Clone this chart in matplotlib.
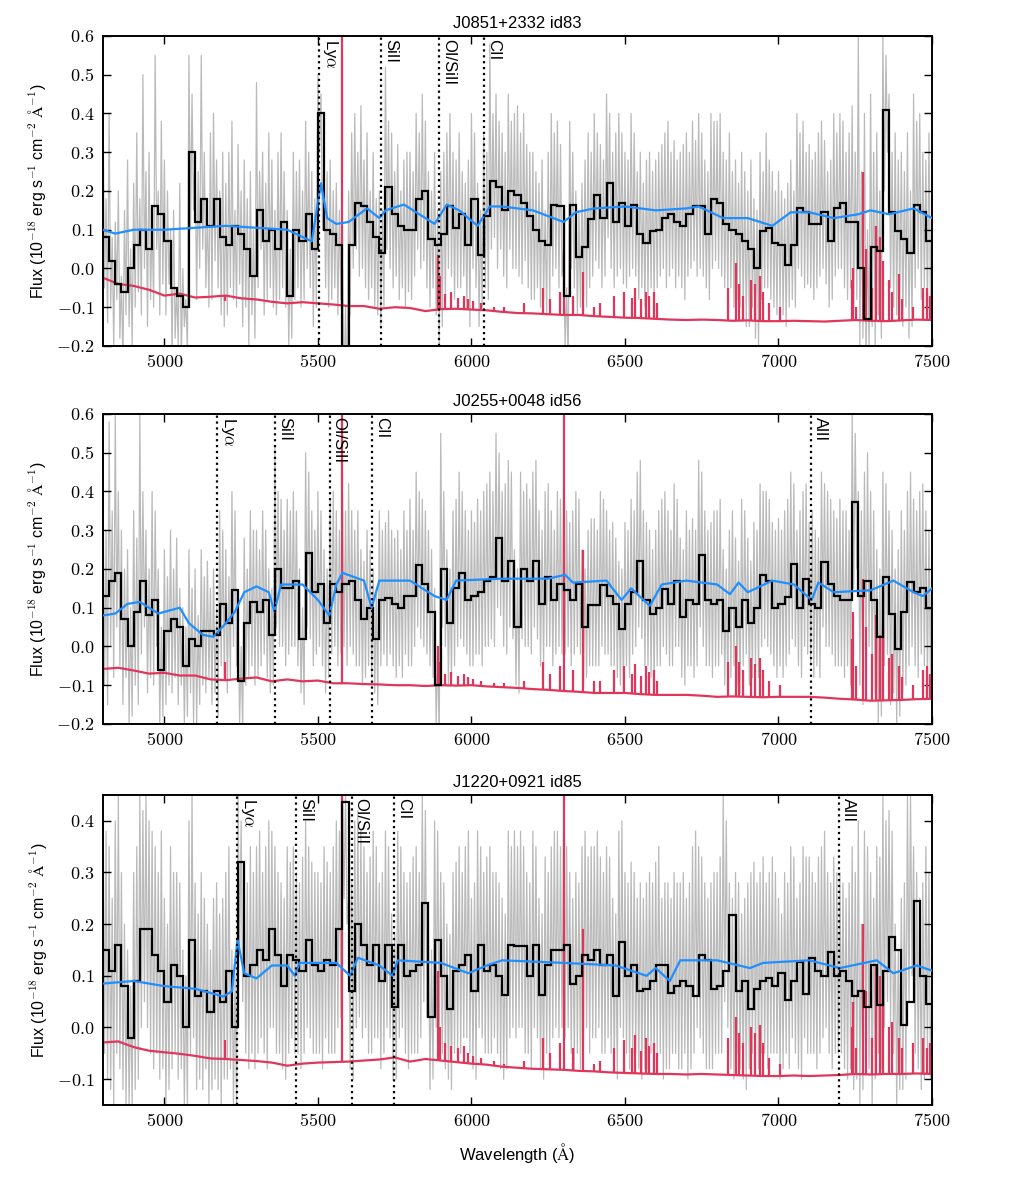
import numpy as np
import matplotlib
matplotlib.use('Agg')
import matplotlib.pyplot as plt
from matplotlib.ticker import FuncFormatter, MultipleLocator

plt.rcParams['font.family'] = ['Liberation Sans', 'DejaVu Sans']
plt.rcParams['mathtext.fontset'] = 'cm'

# ── data ─────────────────────────────────────────────────────────────────────
BIN = 20.0      # binned spectrum (black)
GSTEP = 5.0     # raw spectrum (grey)
SSTEP = 50.0    # sky continuum (red)
X0 = 4800.0

titles = ["J0851+2332 id83", "J0255+0048 id56", "J1220+0921 id85"]
redshift = [3.527, 3.253, 3.308]
ylims = [(-0.2, 0.6), (-0.2, 0.6), (-0.15, 0.45)]

line_names = [r"Ly$\alpha$", "SiII", "OI/SiII", "CII", "AlII"]
line_rest = [1215.67, 1260.42, 1302.17, 1334.53, 1670.79]

black1 = [0.08, 0.02, -0.04, -0.06, 0.0, 0.06, 0.10, 0.05, 0.16, 0.14,
          0.07, -0.05, -0.07, -0.10, 0.30, 0.12, 0.18, 0.11, 0.18, 0.08,
          0.06, 0.11, 0.09, 0.05, -0.02, 0.15, 0.07, 0.10, 0.05, 0.12,
          -0.07, 0.10, 0.07, 0.14, 0.05, 0.40, 0.10, 0.09, 0.06, -0.30,
          0.06, 0.17, 0.16, 0.12, 0.08, 0.04, 0.21, 0.14, 0.11, 0.10,
          0.10, 0.18, 0.20, 0.075, 0.06, 0.09, 0.16, 0.105, 0.14, 0.06,
          0.18, 0.035, 0.135, 0.225, 0.21, 0.15, 0.20, 0.19, 0.17, 0.135,
          0.10, 0.07, 0.06, 0.165, 0.16, -0.07, 0.165, 0.03, 0.055, 0.127,
          0.19, 0.13, 0.22, 0.12, 0.17, 0.11, 0.165, 0.09, 0.066, 0.097,
          0.10, 0.13, 0.14, 0.12, 0.11, 0.14, 0.16, 0.16, 0.09, 0.18,
          0.17, 0.115, 0.10, 0.09, 0.07, 0.05, 0.0, 0.097, 0.105, 0.066,
          0.06, 0.01, 0.06, 0.157, 0.145, 0.115, 0.115, 0.145, 0.07, 0.157,
          0.17, 0.12, 0.12, 0.0, -0.13, 0.055, 0.045, 0.41, 0.145, 0.097,
          0.075, 0.04, 0.165, 0.145, 0.07]
black2 = [0.13, 0.17, 0.19, 0.07, 0.0, 0.09, 0.17, 0.08, 0.12, -0.06,
          0.04, 0.07, 0.05, -0.05, 0.02, 0.0, 0.04, 0.04, 0.03, 0.11,
          0.06, 0.145, -0.09, 0.06, 0.115, 0.09, 0.12, 0.03, 0.20, 0.15,
          0.15, 0.17, 0.02, 0.24, 0.14, 0.16, 0.06, 0.16, 0.14, 0.16,
          0.17, 0.12, 0.07, 0.10, 0.02, 0.12, 0.125, 0.11, 0.10, 0.13,
          0.13, 0.21, 0.16, 0.09, -0.10, 0.20, 0.06, 0.15, 0.19, 0.12,
          0.13, 0.14, 0.17, 0.18, 0.28, 0.17, 0.22, 0.05, 0.20, 0.17,
          0.22, 0.11, 0.18, 0.12, 0.16, 0.145, 0.12, 0.16, 0.05, 0.106,
          0.106, 0.158, 0.13, 0.11, 0.046, 0.11, 0.14, 0.22, 0.12, 0.084,
          0.10, 0.149, 0.11, 0.17, 0.076, 0.12, 0.11, 0.235, 0.12, 0.11,
          0.12, 0.04, 0.10, 0.05, 0.12, 0.06, 0.10, 0.184, 0.17, 0.10,
          0.11, 0.128, 0.214, 0.10, 0.175, 0.11, 0.10, 0.218, 0.16, 0.13,
          0.12, 0.12, 0.373, 0.13, 0.17, 0.12, 0.024, 0.18, 0.084, -0.006,
          0.09, 0.166, 0.14, 0.15, 0.10]
black3 = [0.15, 0.11, 0.16, 0.08, -0.02, 0.09, 0.19, 0.19, 0.14, 0.11,
          0.05, 0.12, 0.10, 0.0, 0.17, 0.06, 0.07, 0.03, 0.07, 0.05,
          0.11, 0.0, 0.32, 0.10, 0.12, 0.15, 0.13, 0.19, 0.14, 0.08,
          0.14, 0.13, 0.11, 0.17, 0.12, 0.11, 0.13, 0.12, 0.19, 0.436,
          0.07, 0.20, 0.16, 0.12, 0.16, 0.09, 0.16, 0.04, 0.16, 0.10,
          0.11, 0.12, 0.24, 0.02, 0.17, 0.10, 0.036, 0.11, 0.12, 0.14,
          0.07, 0.16, 0.11, 0.12, 0.10, 0.062, 0.16, 0.157, 0.157, 0.10,
          0.16, 0.062, 0.12, 0.15, 0.15, 0.16, 0.085, 0.10, 0.14, 0.13,
          0.15, 0.12, 0.14, 0.06, 0.166, 0.10, 0.12, 0.07, 0.075, 0.09,
          0.12, 0.12, 0.066, 0.08, 0.09, 0.08, 0.06, 0.14, 0.13, 0.075,
          0.08, 0.11, 0.218, 0.07, 0.09, 0.036, 0.075, 0.09, 0.095, 0.08,
          0.105, 0.053, 0.09, 0.127, 0.065, 0.134, 0.11, 0.10, 0.147, 0.10,
          0.11, 0.09, 0.06, 0.07, 0.04, 0.12, 0.043, 0.11, 0.176, 0.15,
          0.004, 0.05, 0.244, 0.10, 0.046]

# raw spectrum in units of 0.01, one value per 5 A from 4800 A (row = 100 A)
grey1 = [
    45, -5, 18, -14, 40, -10, 8, -20, 12, -8, 20, -18, -2, -25, 15, -12, 28, -15, 5, -20,
    22, -10, 35, -6, 18, -12, 50, 0, 25, -15, 30, -8, 12, -10, 55, 5, 20, -12, 38, -4,
    28, -12, 20, -4, 10, -22, 15, -18, -5, -20, 22, -25, 0, -15, -8, -22, 55, 10, 45, 15,
    30, -8, 25, 0, 55, 5, 30, -5, 15, -10, 35, -8, 40, 2, 28, -5, 20, -12, 30, -15,
    22, -12, 30, -5, 38, -8, 15, -10, 32, -4, 20, -15, 28, -10, 18, -20, 25, -12, 10, -18,
    48, -5, 25, 5, 30, -12, 22, -8, 35, -5, 28, -10, 15, -12, 30, -8, 35, -5, 25, -10,
    15, -20, 5, -18, 30, -8, 25, -5, 28, -10, 20, -8, 38, 0, 30, -5, 25, -15, 18, -10,
    50, 30, 45, 10, 30, -5, 25, -10, 28, -8, 20, -5, 22, -12, 15, -8, 0, -30, -10, -35,
    20, -12, 35, 0, 40, 5, 30, -2, 42, 0, 28, -5, 35, -8, 20, -5, 30, -10, 18, -12,
    20, -15, 15, -10, 52, 5, 38, 0, 35, -5, 25, -2, 32, -8, 20, -5, 28, -10, 30, -6,
    30, -8, 25, -2, 40, 5, 35, 0, 45, 2, 38, -5, 25, -10, 20, -5, 30, -12, 15, -20,
    25, -15, 30, -8, 35, 0, 40, -2, 30, -8, 28, -5, 35, -5, 25, -2, 22, -10, 28, -15,
    40, 0, 35, -5, 22, -15, 15, -10, 35, -5, 30, -8, 58, 5, 40, 8, 45, 0, 38, 5,
    35, -2, 30, -5, 45, 5, 38, 0, 40, 0, 42, -2, 35, -4, 40, 2, 32, -5, 30, -8,
    30, -8, 25, -5, 22, -10, 28, -8, 15, -12, 30, -10, 40, -2, 35, 0, 38, -5, 32, -2,
    5, -20, -5, -25, 38, 0, 30, -5, 20, -12, 15, -10, 22, -8, 28, -10, 35, -5, 30, -2,
    40, 2, 35, 0, 32, -5, 28, -2, 45, 8, 40, 0, 30, -5, 35, -2, 40, 0, 35, -4,
    30, -5, 28, -2, 40, 0, 35, -2, 25, -8, 30, -5, 22, -10, 28, -8, 30, -5, 25, -8,
    28, -5, 30, -2, 32, 0, 35, -5, 38, -2, 30, 0, 33, -5, 28, -2, 30, -5, 32, -8,
    35, -2, 30, 0, 38, 2, 33, -2, 40, 0, 35, -2, 28, -5, 25, -8, 40, 0, 38, 2,
    38, 0, 40, -2, 30, -5, 28, -8, 35, -5, 25, -10, 28, -8, 22, -10, 30, -12, 25, -15,
    20, -15, 28, -10, 18, -18, 15, -20, 30, -8, 25, -5, 35, -5, 28, -8, 25, -10, 20, -12,
    25, -10, 20, -12, 18, -15, 22, -10, 28, -8, 20, -10, 40, 0, 35, -2, 38, -5, 30, -4,
    32, -5, 28, -8, 30, -5, 35, -2, 38, 0, 33, -4, 25, -10, 28, -8, 40, -2, 35, 0,
    40, 0, 38, -5, 30, -8, 35, -5, 42, -10, 30, -8, 60, -20, 25, -18, 40, -25, 10, -22,
    45, -15, 30, -20, 35, -12, 20, -18, 60, 20, 55, 30, 45, -5, 30, -10, 35, -12, 28, -8,
    30, -15, 25, -10, 35, -18, 20, -15, 45, -5, 38, 0, 40, -8, 30, -5, 28, -12, 35, -10,
    20]
grey2 = [
    45, -10, 30, -15, 58, 0, 35, -8, 60, 5, 40, -5, 30, -15, 20, -8, 25, -20, 10, -18,
    35, -10, 28, -15, 60, -2, 40, 5, 30, -12, 20, -8, 40, -10, 35, 0, 20, -20, 5, -18,
    25, -15, 18, -10, 30, -12, 20, -8, 28, -15, 15, -10, 10, -20, 5, -18, 25, -12, 15, -20,
    20, -20, 8, -15, 25, -10, 18, -12, 22, -8, 15, -15, 20, -12, 10, -18, 35, -5, 30, -8,
    25, -12, 18, -8, 40, 0, 35, -5, 10, -20, 0, -22, 28, -10, 20, -8, 35, -5, 30, -10,
    30, -8, 25, -5, 35, -2, 30, -8, 20, -12, 15, -10, 52, 5, 40, 0, 38, 0, 30, -5,
    38, -2, 35, 0, 40, 0, 35, -5, 20, -12, 10, -15, 50, 5, 45, 2, 35, -5, 30, -2,
    40, 0, 35, -5, 25, -12, 20, -8, 38, -2, 40, 0, 35, -5, 30, -2, 40, 0, 35, -5,
    42, 0, 35, -2, 30, -5, 35, -5, 25, -10, 22, -8, 30, -5, 25, -8, 20, -12, 15, -15,
    35, -5, 30, -2, 32, -5, 35, -2, 30, -5, 28, -8, 30, -5, 25, -8, 35, -2, 30, -5,
    38, -5, 30, 0, 45, 5, 40, 2, 38, 0, 35, -2, 30, -5, 25, -8, 15, -20, 0, -25,
    55, 5, 40, 0, 25, -10, 20, -8, 35, -5, 38, 0, 45, 2, 40, 0, 35, -2, 30, -5,
    35, -5, 32, -2, 38, -2, 35, -5, 40, 0, 42, 0, 45, 2, 40, 0, 55, 10, 50, 8,
    40, 0, 42, -2, 48, 5, 45, 2, 25, -10, 20, -12, 45, 2, 40, 0, 42, 0, 38, -2,
    45, 5, 48, 2, 35, -5, 30, -5, 40, 0, 42, 0, 35, -5, 30, -2, 40, 0, 38, -2,
    40, -2, 35, 0, 32, -5, 35, -2, 40, 0, 38, -2, 25, -10, 20, -8, 30, -5, 33, -5,
    33, -5, 30, -5, 40, 0, 38, -2, 35, -2, 30, -5, 32, -5, 28, -8, 22, -10, 20, -12,
    32, -5, 30, -8, 38, -2, 35, 0, 45, 5, 48, 2, 35, -5, 32, -5, 30, -8, 25, -10,
    30, -5, 35, -5, 38, 0, 40, -2, 35, -5, 30, -5, 42, 0, 38, 0, 28, -8, 25, -10,
    35, -5, 30, -5, 33, -8, 30, -5, 48, 5, 45, 0, 35, -5, 30, -5, 32, -8, 35, -5,
    35, -5, 38, -2, 25, -10, 20, -12, 30, -8, 35, -5, 28, -10, 22, -12, 38, -5, 35, -2,
    28, -10, 22, -8, 32, -5, 30, -8, 42, 0, 40, 2, 40, 0, 38, -2, 32, -5, 30, -8,
    33, -5, 30, -8, 35, -5, 38, -2, 45, 2, 42, 0, 30, -5, 35, -8, 40, 0, 42, -2,
    32, -5, 35, -8, 30, -5, 28, -8, 45, 5, 42, 0, 40, 0, 38, -2, 35, -5, 33, -5,
    38, -5, 35, -8, 35, -5, 30, -10, 60, 15, 55, 20, 40, -10, 35, -15, 45, -5, 50, 0,
    40, -10, 35, -12, 25, -20, 20, -18, 45, -5, 42, -2, 35, -15, 30, -12, 20, -20, 25, -18,
    35, -12, 30, -10, 40, -5, 45, 0, 38, -5, 35, -8, 40, -2, 42, -5, 35, -10, 30, -8,
    30]
grey3 = [
    50, -5, 38, -10, 35, -12, 25, -15, 40, -5, 45, -8, 30, -12, 20, -15, 15, -15, 8, -15,
    30, -12, 35, -10, 45, 0, 42, 5, 45, 0, 40, -5, 38, -8, 35, -5, 30, -10, 38, -8,
    25, -15, 20, -12, 35, -8, 30, -5, 30, -10, 28, -8, 15, -15, 10, -15, 40, -5, 45, -2,
    28, -12, 22, -10, 30, -12, 25, -8, 20, -15, 15, -12, 25, -10, 28, -12, 22, -15, 25, -10,
    30, -10, 35, -8, 15, -15, 10, -15, 45, 15, 40, 5, 30, -5, 28, -8, 35, -5, 30, -8,
    35, -5, 38, -2, 30, -5, 35, -8, 40, 0, 38, 0, 35, -5, 30, -5, 28, -8, 25, -10,
    35, -5, 32, -2, 35, -5, 30, -5, 28, -8, 33, -5, 40, 0, 35, -2, 32, -5, 30, -5,
    30, -5, 28, -8, 35, -2, 32, -5, 30, -5, 35, -5, 40, 0, 38, 2, 45, 25, 45, 20,
    25, -8, 28, -10, 40, 0, 42, 2, 38, -2, 35, 0, 30, -5, 33, -5, 38, -2, 35, -2,
    28, -8, 30, -5, 38, 0, 35, -2, 22, -10, 18, -10, 38, -2, 35, 0, 30, -5, 28, -8,
    30, -5, 33, -5, 35, -5, 30, -2, 45, 5, 42, 2, 20, -12, 15, -10, 40, 0, 38, -2,
    30, -5, 28, -8, 20, -10, 18, -12, 30, -5, 32, -5, 35, -5, 30, -2, 35, -2, 38, -5,
    25, -8, 28, -10, 38, 0, 35, -2, 30, -5, 33, -5, 35, -5, 30, -2, 30, -5, 28, -8,
    25, -10, 22, -8, 38, -2, 35, 0, 38, -2, 35, 0, 38, 0, 35, -5, 30, -5, 28, -8,
    38, 0, 35, -2, 25, -8, 22, -10, 33, -5, 30, -5, 35, -2, 38, 0, 38, -2, 35, 0,
    38, -2, 35, 0, 30, -5, 25, -8, 30, -5, 28, -8, 35, -2, 38, 0, 33, -5, 35, -2,
    35, -2, 38, 0, 33, -5, 30, -5, 35, -2, 33, -5, 25, -8, 22, -10, 38, 0, 40, -2,
    30, -5, 28, -8, 32, -5, 30, -5, 25, -8, 28, -10, 25, -8, 28, -8, 30, -5, 28, -8,
    32, -5, 35, -5, 25, -10, 28, -8, 28, -8, 25, -5, 30, -5, 28, -8, 28, -8, 30, -5,
    25, -10, 28, -8, 35, -5, 38, 0, 35, -2, 33, -5, 28, -8, 25, -8, 28, -8, 30, -5,
    30, -5, 33, -5, 45, 5, 40, 0, 28, -8, 25, -10, 30, -5, 28, -8, 22, -10, 25, -12,
    28, -8, 30, -5, 32, -5, 28, -8, 30, -5, 33, -5, 28, -8, 30, -5, 33, -5, 30, -5,
    25, -10, 22, -8, 30, -5, 28, -8, 35, -2, 33, -5, 25, -8, 28, -10, 35, -2, 33, -5,
    33, -5, 30, -5, 28, -8, 33, -5, 35, -2, 38, 0, 30, -5, 28, -8, 33, -5, 30, -5,
    30, -5, 28, -8, 25, -10, 28, -8, 35, -12, 30, -10, 40, -15, 20, -12, 38, -5, 35, -8,
    30, -15, 25, -10, 35, -5, 33, -8, 45, 0, 40, 5, 42, 0, 38, -5, 20, -15, 15, -12,
    25, -12, 28, -10, 45, 5, 45, 10, 35, -5, 30, -8, 25, -12, 28, -10, 35, -5, 30, -10,
    10]

blue_w1 = [4800, 4840, 4900, 5000, 5100, 5200, 5300, 5400, 5480, 5510, 5530,
           5560, 5600, 5660, 5700, 5720, 5780, 5880, 5920, 5960, 6020, 6060,
           6100, 6200, 6300, 6340, 6400, 6500, 6600, 6700, 6740, 6820, 6900,
           6980, 7040, 7100, 7180, 7260, 7300, 7360, 7440, 7500]
blue_f1 = [0.10, 0.09, 0.10, 0.10, 0.105, 0.11, 0.105, 0.10, 0.07, 0.22, 0.13,
           0.115, 0.12, 0.155, 0.13, 0.15, 0.165, 0.115, 0.165, 0.15, 0.11, 0.16,
           0.16, 0.15, 0.12, 0.145, 0.155, 0.16, 0.15, 0.155, 0.16, 0.13, 0.13,
           0.11, 0.145, 0.145, 0.13, 0.14, 0.15, 0.14, 0.155, 0.13]
blue_w2 = [4800, 4840, 4880, 4920, 4980, 5050, 5080, 5125, 5160, 5200, 5230,
           5260, 5300, 5340, 5358, 5380, 5450, 5500, 5537, 5560, 5580, 5650,
           5675, 5700, 5800, 5880, 5919, 5950, 6100, 6250, 6305, 6330, 6440,
           6489, 6520, 6581, 6620, 6700, 6800, 6842, 6870, 6900, 6980, 7050,
           7108, 7130, 7180, 7300, 7374, 7440, 7470, 7500]
blue_f2 = [0.08, 0.085, 0.11, 0.115, 0.085, 0.10, 0.06, 0.03, 0.025, 0.06, 0.09,
           0.14, 0.155, 0.14, 0.09, 0.16, 0.16, 0.12, 0.08, 0.16, 0.19, 0.17,
           0.10, 0.17, 0.17, 0.13, 0.12, 0.17, 0.175, 0.175, 0.185, 0.165, 0.17,
           0.12, 0.15, 0.105, 0.16, 0.17, 0.16, 0.135, 0.165, 0.14, 0.17, 0.16,
           0.12, 0.165, 0.14, 0.145, 0.17, 0.14, 0.13, 0.15]
blue_w3 = [4800, 4900, 5000, 5100, 5192, 5220, 5238, 5260, 5300, 5350, 5400,
           5425, 5440, 5560, 5605, 5630, 5700, 5743, 5760, 5900, 5990, 6050,
           6100, 6300, 6470, 6570, 6600, 6646, 6680, 6800, 6907, 6950, 7100,
           7200, 7320, 7374, 7400, 7450, 7500]
blue_f3 = [0.085, 0.09, 0.08, 0.075, 0.06, 0.07, 0.17, 0.105, 0.095, 0.12, 0.12,
           0.10, 0.125, 0.125, 0.10, 0.135, 0.12, 0.10, 0.13, 0.125, 0.105, 0.12,
           0.13, 0.125, 0.12, 0.10, 0.115, 0.09, 0.13, 0.13, 0.115, 0.125, 0.13,
           0.115, 0.13, 0.105, 0.11, 0.12, 0.11]

# sky continuum, one value per 50 A from 4800 A
sky_base1 = [-0.024, -0.040, -0.045, -0.055, -0.070, -0.065, -0.075, -0.073,
             -0.070, -0.077, -0.080, -0.086, -0.090, -0.087, -0.090, -0.093,
             -0.097, -0.097, -0.104, -0.100, -0.102, -0.110, -0.105, -0.104,
             -0.106, -0.108, -0.112, -0.115, -0.116, -0.118, -0.120, -0.120,
             -0.123, -0.125, -0.127, -0.128, -0.130, -0.132, -0.133, -0.132,
             -0.133, -0.135, -0.134, -0.136, -0.136, -0.135, -0.136, -0.137,
             -0.135, -0.133, -0.135, -0.136, -0.134, -0.132, -0.133]
sky_base2 = [-0.058, -0.055, -0.062, -0.070, -0.068, -0.075, -0.075, -0.085,
             -0.087, -0.083, -0.080, -0.090, -0.085, -0.090, -0.088, -0.095,
             -0.095, -0.097, -0.098, -0.100, -0.100, -0.102, -0.100, -0.101,
             -0.100, -0.103, -0.105, -0.107, -0.110, -0.112, -0.115, -0.117,
             -0.120, -0.120, -0.120, -0.123, -0.125, -0.125, -0.125, -0.127,
             -0.130, -0.129, -0.130, -0.131, -0.130, -0.130, -0.130, -0.132,
             -0.135, -0.137, -0.140, -0.139, -0.138, -0.136, -0.135]
sky_base3 = [-0.029, -0.027, -0.038, -0.045, -0.048, -0.051, -0.055, -0.060,
             -0.061, -0.063, -0.065, -0.068, -0.074, -0.070, -0.068, -0.067,
             -0.066, -0.064, -0.062, -0.058, -0.066, -0.061, -0.064, -0.067,
             -0.070, -0.072, -0.076, -0.078, -0.080, -0.081, -0.082, -0.084,
             -0.085, -0.087, -0.088, -0.089, -0.090, -0.090, -0.091, -0.090,
             -0.091, -0.092, -0.093, -0.094, -0.094, -0.093, -0.094, -0.093,
             -0.092, -0.090, -0.091, -0.090, -0.090, -0.089, -0.090]

sky_lines = [5199, 5577, 5890, 5896, 5915, 5934, 5955, 5976, 5990, 6005, 6030,
             6075, 6105, 6170, 6234, 6257, 6287, 6300, 6330, 6363, 6400, 6420,
             6465, 6498, 6522, 6533, 6553, 6568, 6577, 6596, 6604, 6834, 6863,
             6871, 6883, 6912, 6923, 6939, 6949, 6970, 7004, 7240, 7244, 7253,
             7276, 7284, 7303, 7316, 7329, 7341, 7359, 7369, 7392, 7402, 7438,
             7470, 7484, 7493]
sky_peak1 = [-0.085, 1.0, 0.035, -0.02, -0.065, -0.06, -0.075, -0.07, -0.08,
             -0.085, -0.09, -0.10, -0.10, -0.09, -0.05, -0.08, -0.06, 0.15,
             -0.07, -0.01, -0.10, -0.09, -0.07, -0.06, -0.075, -0.05, -0.08,
             -0.06, -0.07, -0.06, -0.09, -0.05, 0.015, -0.04, -0.07, -0.03,
             -0.04, -0.02, -0.06, -0.09, -0.10, -0.03, 0.0, -0.10, 0.25, 0.05,
             -0.05, 0.11, 0.08, 0.02, -0.03, -0.06, -0.015, -0.08, -0.10,
             -0.05, -0.05, -0.07]
sky_peak2 = [-0.04, 1.0, 0.0, -0.04, -0.07, -0.065, -0.075, -0.07, -0.08,
             -0.085, -0.09, -0.095, -0.095, -0.09, -0.04, -0.07, -0.05, 1.0,
             -0.06, 0.25, -0.09, -0.09, -0.06, -0.05, -0.07, -0.045, -0.075,
             -0.05, -0.065, -0.06, -0.09, -0.04, 0.0, -0.04, -0.06, -0.03,
             -0.045, -0.03, -0.06, -0.09, -0.10, 0.02, 0.09, -0.05, 0.175, 0.05,
             -0.02, 0.08, 0.03, 0.05, -0.03, -0.02, -0.05, -0.08, -0.10,
             -0.06, -0.05, -0.07]
sky_peak3 = [-0.025, 1.0, 0.11, 0.0, -0.03, -0.035, -0.04, -0.035, -0.05,
             -0.055, -0.06, -0.065, -0.07, -0.065, -0.02, -0.05, -0.03, 1.0,
             -0.04, 0.19, -0.07, -0.065, -0.04, -0.025, -0.04, -0.015, -0.045,
             -0.02, -0.035, -0.03, -0.05, -0.02, 0.02, -0.01, -0.03, 0.0,
             -0.01, 0.005, -0.03, -0.06, -0.07, 0.0, 0.05, -0.04, 0.20, 0.07,
             -0.02, 0.12, 0.10, 0.05, 0.0, 0.01, -0.02, -0.04, -0.03,
             -0.02, -0.04, -0.03]

blacks = [black1, black2, black3]
greys = [grey1, grey2, grey3]
blue_w = [blue_w1, blue_w2, blue_w3]
blue_f = [blue_f1, blue_f2, blue_f3]
sky_base = [sky_base1, sky_base2, sky_base3]
sky_peak = [sky_peak1, sky_peak2, sky_peak3]

GREY = '#bababa'
BLUE = '#1e8fff'
RED = '#e0365c'

fig = plt.figure(figsize=(10.35, 12.0), dpi=100)
tops = [0.970, 0.655, 0.3375]
H = 0.2583

cm_fmt = FuncFormatter(lambda v, p: r"$%s$" % (f"{v:.1f}" if abs(v) > 1e-9 else "0.0"))
cm_fmt_x = FuncFormatter(lambda v, p: r"$%d$" % int(round(v)))

for k in range(3):
    ax = fig.add_axes([0.0995, tops[k] - H, 0.801, H])

    g = np.array(greys[k]) / 100.0
    ax.plot(X0 + GSTEP * np.arange(len(g)), g, color=GREY, lw=0.9, zorder=1)

    # sky spectrum
    sb = np.array(sky_base[k])
    sw = X0 + SSTEP * np.arange(len(sb))
    ax.plot(sw, sb, color=RED, lw=1.6, zorder=2)
    foot = np.interp(sky_lines, sw, sb)
    ax.vlines(sky_lines, foot, sky_peak[k], color=RED, lw=1.6, zorder=2)

    vals = np.array(blacks[k])
    edges = X0 + BIN * np.arange(len(vals) + 1)
    ax.stairs(vals, edges, baseline=None, color='k', lw=1.6, zorder=4)
    ax.plot(blue_w[k], blue_f[k], color=BLUE, lw=1.6, zorder=5)

    lo, hi = ylims[k]
    for name, rest in zip(line_names, line_rest):
        lam = rest * (1 + redshift[k])
        if lam > 7500:
            continue
        ax.axvline(lam, color='k', ls=':', lw=1.6, zorder=6)
        ax.text(lam + 6, hi - 0.01 * (hi - lo), name, rotation=270, va='top',
                ha='left', fontsize=12, zorder=7)

    ax.set_xlim(4800, 7500)
    ax.set_ylim(lo, hi)
    ax.xaxis.set_major_locator(MultipleLocator(500))
    ax.yaxis.set_major_locator(MultipleLocator(0.1))
    ax.xaxis.set_major_formatter(cm_fmt_x)
    ax.yaxis.set_major_formatter(cm_fmt)
    ax.tick_params(direction='in', top=True, right=True, length=6, width=1,
                   labelsize=13, pad=6)
    for s in ax.spines.values():
        s.set_linewidth(1.4)
    ax.set_title(titles[k], fontsize=12, pad=6)
    ax.set_ylabel(r"Flux (10$^{-18}$ erg s$^{-1}$ cm$^{-2}$ $\mathrm{\AA}^{-1}$)",
                  fontsize=11.5, labelpad=6)
    if k == 2:
        ax.set_xlabel(r"Wavelength ($\mathrm{\AA}$)", fontsize=12, labelpad=8)

fig.savefig('out.png', dpi=100)
